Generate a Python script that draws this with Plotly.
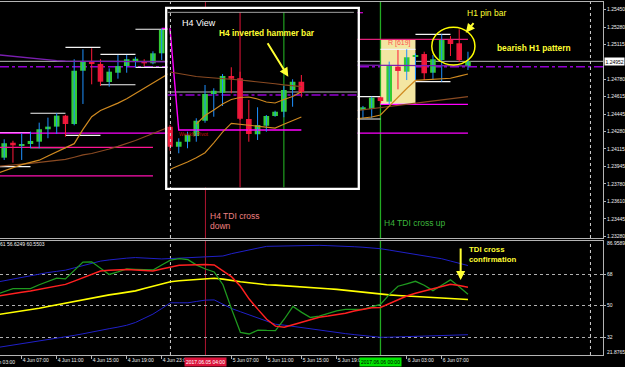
import pandas as pd
import plotly.graph_objects as go

FONT = "Liberation Sans"

# ---------------- H1 candles visible in the main window ----------------
candle_time = [
    "2017-06-04 05:00", "2017-06-04 06:00", "2017-06-04 07:00", "2017-06-04 08:00", "2017-06-04 09:00",
    "2017-06-04 10:00", "2017-06-04 11:00", "2017-06-04 12:00", "2017-06-04 13:00", "2017-06-04 14:00",
    "2017-06-04 15:00", "2017-06-04 16:00", "2017-06-04 17:00", "2017-06-04 18:00", "2017-06-04 19:00",
    "2017-06-04 20:00", "2017-06-04 21:00", "2017-06-04 22:00", "2017-06-04 23:00",
    "2017-06-05 22:00", "2017-06-05 23:00", "2017-06-06 00:00", "2017-06-06 01:00", "2017-06-06 02:00",
    "2017-06-06 03:00", "2017-06-06 04:00", "2017-06-06 05:00", "2017-06-06 06:00", "2017-06-06 07:00",
    "2017-06-06 08:00", "2017-06-06 09:00", "2017-06-06 10:00"]
candle_open = [1.24030, 1.24173, 1.24148, 1.24161, 1.24183, 1.24302, 1.24327, 1.24432, 1.24352, 1.24862,
               1.24946, 1.24927, 1.24754, 1.24843, 1.24907, 1.24952, 1.24955, 1.24933, 1.25029,
               1.24493, 1.24496, 1.24608, 1.24566, 1.24901, 1.24853, 1.24996, 1.25022, 1.24843, 1.24965,
               1.25163, 1.25125, 1.24907]
candle_high = [1.24206, 1.24192, 1.24263, 1.24279, 1.24365, 1.24413, 1.24455, 1.24440, 1.24972, 1.25067,
               1.25077, 1.24972, 1.24885, 1.25013, 1.25013, 1.24996, 1.24972, 1.25048, 1.25264,
               1.24525, 1.24614, 1.24614, 1.24949, 1.25061, 1.25067, 1.25029, 1.25044, 1.25013, 1.25211,
               1.25194, 1.25259, 1.25044]
candle_low = [1.24008, 1.23982, 1.24008, 1.24120, 1.24120, 1.24216, 1.24257, 1.24231, 1.24340, 1.24544,
              1.24732, 1.24716, 1.24709, 1.24786, 1.24843, 1.24895, 1.24907, 1.24924, 1.24965,
              1.24400, 1.24407, 1.24550, 1.24544, 1.24684, 1.24773, 1.24773, 1.24773, 1.24773, 1.24757,
              1.25003, 1.24946, 1.24869]
candle_close = [1.24168, 1.24148, 1.24161, 1.24190, 1.24302, 1.24327, 1.24432, 1.24352, 1.24862, 1.24946,
                1.24927, 1.24757, 1.24853, 1.24907, 1.24972, 1.24977, 1.24933, 1.25029, 1.25252,
                1.24512, 1.24604, 1.24572, 1.24907, 1.24860, 1.24991, 1.25013, 1.24838, 1.24972, 1.25156,
                1.25118, 1.24965, 1.24952]

# hourly axis used by the moving averages and the TDI window (4 Jun 04:00 .. 6 Jun 10:00)
hours = pd.date_range("2017-06-04 04:00", "2017-06-06 10:00", freq="h").strftime("%Y-%m-%d %H:%M").tolist()

# moving averages (hidden part under the H4 inset left empty)
ma_fast = ([1.23874, 1.23904, 1.23936, 1.23964, 1.23985, 1.24006, 1.24046, 1.24087, 1.24126, 1.24164,
            1.24301, 1.24422, 1.24481, 1.24514, 1.24552, 1.24593, 1.24643, 1.24696, 1.24744, 1.24800, 1.24845]
           + [None] * 20 +
           [1.24400, 1.24410, 1.24419, 1.24438, 1.24525, 1.24611, 1.24692, 1.24769, 1.24773, 1.24778,
            1.24783, 1.24790, 1.24810, 1.24831])
ma_slow = ([1.23946, 1.23952, 1.23960, 1.23968, 1.23976, 1.23985, 1.23993, 1.24003, 1.24014, 1.24034,
            1.24056, 1.24070, 1.24088, 1.24113, 1.24138, 1.24164, 1.24194, 1.24228, 1.24263, 1.24295, 1.24328]
           + [None] * 20 +
           [1.24477, 1.24486, 1.24496, 1.24508, 1.24520, 1.24530, 1.24540, 1.24550, 1.24560, 1.24571,
            1.24582, 1.24593, 1.24603, 1.24614])
ma_long = ([1.25017, 1.25008, 1.24998, 1.24989, 1.24979, 1.24972, 1.24965, 1.24958, 1.24955, 1.24954,
            1.24953, 1.24952, 1.24951, 1.24950, 1.24950, 1.24949, 1.24948, 1.24948, 1.24947, 1.24946, 1.24946]
           + [None] * 20 +
           [1.24915, 1.24914, 1.24914, 1.24913, 1.24913, 1.24912, 1.24912, 1.24911, 1.24911, 1.24910,
            1.24910, 1.24909, 1.24909, 1.24908])

# H4 high / low ranges drawn over the H1 candles
h4_start = ["2017-06-04 04:00", "2017-06-04 08:00", "2017-06-04 12:00", "2017-06-04 16:00",
            "2017-06-04 20:00", "2017-06-05 20:00", "2017-06-06 00:00", "2017-06-06 04:00"]
h4_high = [1.24269, 1.24455, 1.25086, 1.25019, 1.25259, 1.24614, 1.25067, 1.25211]
h4_low = [1.23944, 1.24126, 1.24244, 1.24728, 1.24895, 1.24400, 1.24544, 1.24757]

# pivot style levels
level_price = [1.24265, 1.24129, 1.23855, 1.24541, 1.25163, 1.25417, 1.25268]
level_start = ["2017-06-04 04:00", "2017-06-04 04:00", "2017-06-04 04:00", "2017-06-06 00:00",
               "2017-06-05 00:00", "2017-06-05 00:00", "2017-06-04 23:00"]
level_end = ["2017-06-06 10:00", "2017-06-04 22:00", "2017-06-04 22:00", "2017-06-06 10:00",
             "2017-06-06 10:00", "2017-06-05 22:00", "2017-06-05 12:00"]
level_colors = ["#ff00ff", "#ff1493", "#ff10b0", "#ff00ff", "#e0207a", "#ff00ff", "#ff00ff"]

bid_price = 1.24952
dashdot_price = 1.24901
price_ticks = [1.25450, 1.25280, 1.25115, 1.24780, 1.24615, 1.24445, 1.24280, 1.24115,
               1.23945, 1.23780, 1.23610, 1.23445, 1.23280]

# ---------------- H4 inset ----------------
inset_time = ["2017.06.03 20:00", "2017.06.04 00:00", "2017.06.04 04:00", "2017.06.04 08:00",
              "2017.06.04 12:00", "2017.06.04 16:00", "2017.06.04 20:00", "2017.06.05 00:00",
              "2017.06.05 04:00", "2017.06.05 08:00", "2017.06.05 12:00", "2017.06.05 16:00",
              "2017.06.05 20:00", "2017.06.06 00:00", "2017.06.06 04:00", "2017.06.06 08:00"]
inset_open = [1.24327, 1.23967, 1.24057, 1.24160, 1.24435, 1.24916, 1.24939, 1.25240,
              1.25199, 1.24466, 1.24191, 1.24345, 1.24520, 1.24597, 1.24988, 1.25137]
inset_high = [1.24358, 1.24119, 1.24237, 1.24479, 1.25078, 1.25019, 1.25276, 1.25397,
              1.25317, 1.24808, 1.24677, 1.24538, 1.24615, 1.25060, 1.25181, 1.25258]
inset_low = [1.23895, 1.23849, 1.23939, 1.24057, 1.24399, 1.24507, 1.24700, 1.24929,
             1.24448, 1.24057, 1.24088, 1.24237, 1.24507, 1.24497, 1.24687, 1.24857]
inset_close = [1.23967, 1.24057, 1.24178, 1.24435, 1.24916, 1.24975, 1.25240, 1.25191,
               1.24471, 1.24196, 1.24358, 1.24520, 1.24597, 1.24988, 1.25137, 1.24952]
inset_ma_slow = [1.25312, 1.25285, 1.25258, 1.25231, 1.25218, 1.25208, 1.25191, 1.25177,
                 1.25168, 1.25152, 1.25139, 1.25121, 1.25100, 1.25080, 1.25060, 1.25049]
inset_ma_mid = [1.23562, 1.23625, 1.23692, 1.23768, 1.23859, 1.24038, 1.24228, 1.24387,
                1.24369, 1.24351, 1.24333, 1.24318, 1.24302, 1.24371, 1.24443, 1.24504]
inset_ma_fast = [None, None, None, 1.24376, 1.24529, 1.24628, 1.24736, 1.24817,
                 1.24853, 1.24862, 1.24826, 1.24772, 1.24754, 1.24817, 1.24871, 1.24956]
inset_pivot = [1.26099] + [1.24268] * 15
inset_dashdot = 1.24898

# ---------------- TDI window (hourly, same axis as `hours`) ----------------
tdi_upper = [63.33, 64.29, 65.30, 66.25, 67.21, 68.11, 68.95, 69.63, 70.30, 71.60, 73.00, 74.35, 75.48, 76.15,
             76.77, 77.17, 77.50, 77.22, 76.88, 76.72, 76.94, 77.22, 77.50, 77.84, 78.06, 78.23, 78.40, 79.75,
             80.93, 81.95, 82.90, 83.91, 84.03, 84.14, 84.20, 84.31, 84.42, 84.48, 84.31, 84.20, 84.03, 83.69,
             83.41, 83.13, 82.56, 81.78, 80.93, 80.15, 79.08, 78.35, 77.62, 76.83, 75.53, 74.24, 72.95]
tdi_lower = [25.98, 26.72, 27.45, 28.23, 28.97, 29.81, 30.60, 31.44, 32.23, 33.07, 33.97, 34.81, 35.77, 36.90,
             37.80, 38.86, 40.44, 42.74, 45.22, 48.37, 51.69, 51.69, 51.69, 52.47, 53.21, 53.32, 50.79, 48.37,
             46.57, 44.88, 43.14, 41.28, 39.43, 38.92, 38.19, 37.51, 37.06, 36.28, 35.55, 34.81, 34.08, 33.52,
             33.01, 32.45, 32.00, 32.06, 32.17, 32.34, 32.51, 32.62, 32.79, 32.96, 33.13, 33.30, 33.46]
tdi_base = [44.71, 45.44, 46.23, 46.96, 47.69, 48.59, 49.61, 50.56, 51.52, 52.53, 53.49, 54.39, 55.46, 56.19,
            56.92, 57.65, 58.49, 59.84, 61.19, 62.54, 63.67, 64.23, 64.62, 65.19, 65.47, 65.69, 65.19, 64.34,
            63.72, 63.16, 62.54, 61.98, 61.75, 61.47, 61.25, 60.97, 60.57, 60.12, 59.73, 59.34, 58.83, 58.16,
            57.54, 56.92, 56.58, 56.19, 55.85, 55.51, 55.17, 54.84, 54.50, 54.16, 53.94, 53.77, 53.54]
tdi_price = [56.36, 58.04, 59.73, 59.73, 59.73, 61.98, 63.95, 65.75, 65.35, 69.85, 74.92, 75.08, 71.54, 67.88,
             69.29, 70.98, 70.81, 70.58, 70.42, 73.23, 76.04, 76.94, 76.32, 73.23, 70.98, 69.29, 61.98, 47.92,
             34.76, 33.86, 36.11, 35.88, 35.77, 42.29, 49.61, 46.23, 43.31, 44.09, 45.67, 47.08, 47.92, 47.92,
             47.92, 49.33, 50.73, 56.36, 61.14, 62.54, 63.95, 61.70, 58.61, 61.70, 64.79, 60.85, 56.62]
tdi_signal = [55.23, 56.13, 56.92, 57.65, 58.38, 59.28, 60.29, 61.25, 62.20, 64.06, 66.03, 68.00, 69.85, 70.25,
              70.58, 70.70, 70.42, 70.13, 69.85, 70.98, 72.05, 73.12, 73.28, 73.45, 73.57, 73.28, 69.85, 66.48,
              61.08, 53.82, 47.92, 42.29, 38.36, 37.74, 39.15, 40.61, 42.01, 43.42, 44.09, 44.94, 45.67, 47.02,
              48.09, 48.88, 48.99, 51.18, 53.37, 55.57, 57.14, 58.38, 59.62, 61.02, 62.32, 61.53, 60.55]
tdi_levels = [68, 50, 32]
tdi_max, tdi_min = 86.9589, 21.8765

time_ticks = ["2017-06-04 07:00", "2017-06-04 11:00", "2017-06-04 15:00", "2017-06-04 19:00",
              "2017-06-04 23:00", "2017-06-05 07:00", "2017-06-05 11:00", "2017-06-05 15:00",
              "2017-06-05 19:00", "2017-06-06 03:00", "2017-06-06 07:00"]
time_labels = ["4 Jun 07:00", "4 Jun 11:00", "4 Jun 15:00", "4 Jun 19:00", "4 Jun 23:00",
               "5 Jun 07:00", "5 Jun 11:00", "5 Jun 15:00", "5 Jun 19:00", "6 Jun 03:00", "6 Jun 07:00"]

tdi_cross_down = "2017-06-05 04:00"
tdi_cross_up = "2017-06-06 00:00"
day_separators = ["2017-06-05 00:00", "2017-06-07 00:00"]

# ---------------- styling ----------------
BULL_BODY, BEAR_BODY = "#33cc33", "#e8173a"
BULL_WICK, BEAR_WICK = "#1e90ff", "#ff1a3a"
FRAME = "#b4b4b4"
TXT = "#f0f0f0"

X_MAIN = ["2017-06-04 04:31:12", "2017-06-07 01:26:00"]
Y_MAIN = [1.23261, 1.25520]
X_INSET = [-0.285, 21.41]
Y_INSET = [1.23233, 1.26446]
Y_TDI = [tdi_min, tdi_max]

fig = go.Figure()


def add_candles(t, o, h, l, c, xa, ya, width):
    bull = [ci >= oi for oi, ci in zip(o, c)]
    for flag, col in ((True, BULL_WICK), (False, BEAR_WICK)):
        xs, ys = [], []
        for ti, hi, li, b in zip(t, h, l, bull):
            if b == flag:
                xs += [ti, ti, None]
                ys += [li, hi, None]
        fig.add_trace(go.Scatter(x=xs, y=ys, mode="lines", line=dict(color=col, width=1),
                                 xaxis=xa, yaxis=ya, hoverinfo="skip"))
    for flag, col in ((True, BULL_BODY), (False, BEAR_BODY)):
        xs = [ti for ti, b in zip(t, bull) if b == flag]
        base = [min(oi, ci) for oi, ci, b in zip(o, c, bull) if b == flag]
        hgt = [abs(ci - oi) for oi, ci, b in zip(o, c, bull) if b == flag]
        fig.add_trace(go.Bar(x=xs, y=hgt, base=base, width=width, xaxis=xa, yaxis=ya,
                             marker=dict(color=col, line=dict(width=0)), hoverinfo="skip"))


# H4 range lines
xs, ys = [], []
for s, hi, lo in zip(h4_start, h4_high, h4_low):
    e = (pd.Timestamp(s) + pd.Timedelta(hours=4)).strftime("%Y-%m-%d %H:%M")
    xs += [s, e, None, s, e, None]
    ys += [hi, hi, None, lo, lo, None]
fig.add_trace(go.Scatter(x=xs, y=ys, mode="lines", line=dict(color="#f4f4f4", width=1.2),
                         xaxis="x", yaxis="y", hoverinfo="skip"))

# pivot levels
for p, s, e, col in zip(level_price, level_start, level_end, level_colors):
    fig.add_trace(go.Scatter(x=[s, e], y=[p, p], mode="lines", line=dict(color=col, width=1.2),
                             xaxis="x", yaxis="y", hoverinfo="skip"))

add_candles(candle_time, candle_open, candle_high, candle_low, candle_close, "x", "y", 2.3e6)

for vals, col, w in ((ma_long, "#7a1fb0", 1.3), (ma_slow, "#8a4a22", 1.2), (ma_fast, "#d08a20", 1.2)):
    fig.add_trace(go.Scatter(x=hours, y=vals, mode="lines", line=dict(color=col, width=w),
                             connectgaps=False, xaxis="x", yaxis="y", hoverinfo="skip"))

# inset
fig.add_trace(go.Scatter(x=inset_time, y=inset_pivot, mode="lines", line=dict(color="#ff00ff", width=1.4),
                         xaxis="x2", yaxis="y2", hoverinfo="skip"))
add_candles(inset_time, inset_open, inset_high, inset_low, inset_close, "x2", "y2", 0.65)
for vals, col in ((inset_ma_slow, "#8a4a22"), (inset_ma_mid, "#d08a20"), (inset_ma_fast, "#d08a20")):
    fig.add_trace(go.Scatter(x=inset_time, y=vals, mode="lines", line=dict(color=col, width=1.1),
                             xaxis="x2", yaxis="y2", hoverinfo="skip"))

# TDI
for vals, col, w in ((tdi_upper, "#2020c8", 1), (tdi_lower, "#2020c8", 1), (tdi_base, "#ffff00", 1.6),
                     (tdi_price, "#1f9a1f", 1.3), (tdi_signal, "#ff2020", 1.5)):
    fig.add_trace(go.Scatter(x=hours, y=vals, mode="lines", line=dict(color=col, width=w),
                             xaxis="x3", yaxis="y3", hoverinfo="skip"))

shapes = []
# main panel horizontal lines
shapes.append(dict(type="line", xref="x", yref="y", x0=X_MAIN[0], x1=X_MAIN[1], y0=bid_price, y1=bid_price,
                   line=dict(color="#b8b8b8", width=1), layer="below"))
shapes.append(dict(type="line", xref="x", yref="y", x0=X_MAIN[0], x1=X_MAIN[1], y0=dashdot_price,
                   y1=dashdot_price, line=dict(color="#9400d3", width=1.5, dash="dashdot"), layer="below"))
# R [619] box
shapes.append(dict(type="rect", xref="x", yref="y", x0="2017-06-06 00:00", x1="2017-06-06 04:00",
                   y0=level_price[3], y1=level_price[4], fillcolor="#f3e6a2", line=dict(width=0), layer="below"))
# verticals in main & TDI
for xv, col, w in ((tdi_cross_down, "#b01530", 1), (tdi_cross_up, "#22aa22", 1.3)):
    shapes.append(dict(type="line", xref="x", yref="y", x0=xv, x1=xv, y0=Y_MAIN[0], y1=Y_MAIN[1],
                       line=dict(color=col, width=w), layer="below"))
    shapes.append(dict(type="line", xref="x3", yref="y3", x0=xv, x1=xv, y0=Y_TDI[0], y1=Y_TDI[1],
                       line=dict(color=col, width=w), layer="below"))
for i, xv in enumerate(day_separators):
    shapes.append(dict(type="line", xref="x", yref="y", x0=xv, x1=xv, y0=Y_MAIN[0], y1=Y_MAIN[1],
                       line=dict(color="#d0d0d0", width=1, dash="dot"), layer="above" if i == 0 else "below"))
    shapes.append(dict(type="line", xref="x3", yref="y3", x0=xv, x1=xv, y0=Y_TDI[0], y1=Y_TDI[1],
                       line=dict(color="#d0d0d0", width=1, dash="dot"), layer="below"))
# inset lines
shapes.append(dict(type="line", xref="x2", yref="y2", x0=X_INSET[0], x1=X_INSET[1], y0=bid_price, y1=bid_price,
                   line=dict(color="#b8b8b8", width=1), layer="below"))
shapes.append(dict(type="line", xref="x2", yref="y2", x0=X_INSET[0], x1=X_INSET[1], y0=inset_dashdot,
                   y1=inset_dashdot, line=dict(color="#9400d3", width=1.3, dash="dashdot"), layer="below"))
for xv, col in (("2017.06.05 04:00", "#c01030"), ("2017.06.06 00:00", "#1f9f1f")):
    shapes.append(dict(type="line", xref="x2", yref="y2", x0=xv, x1=xv, y0=Y_INSET[0], y1=1.26386,
                       line=dict(color=col, width=1.2), layer="below"))
shapes.append(dict(type="line", xref="x2", yref="y2", x0=X_INSET[0], x1=21.0, y0=1.26386, y1=1.26386,
                   line=dict(color="#a0a0a0", width=1), layer="below"))
# inset white frame
shapes.append(dict(type="rect", xref="paper", yref="paper", x0=0.26592, x1=0.57408, y0=0.48556, y1=0.97875,
                   line=dict(color="#ffffff", width=2.3), layer="above"))
# circle around pin bar
shapes.append(dict(type="circle", xref="x", yref="y", x0="2017-06-06 05:52", x1="2017-06-06 10:48",
                   y0=1.24917, y1=1.25278, line=dict(color="#ffff00", width=1.5), layer="above"))

ann = []


def note(text, x, y, xref, yref, color, size, bold=False, xanchor="left", yanchor="middle", **kw):
    ann.append(dict(text=f"<b>{text}</b>" if bold else text, x=x, y=y, xref=xref, yref=yref,
                    xanchor=xanchor, yanchor=yanchor, showarrow=False,
                    font=dict(family=FONT, size=size, color=color), **kw))


def arrow(x, y, xref, yref, ax, ay):
    ann.append(dict(text="", x=x, y=y, xref=xref, yref=yref, ax=ax, ay=ay, showarrow=True,
                    arrowcolor="#ffff33", arrowwidth=2, arrowhead=2, arrowsize=0.9))


note("H1 pin bar", "2017-06-06 09:40", 1.25417, "x", "y", "#ffff33", 8.5)
arrow("2017-06-06 09:45", 1.25226, "x", "y", 9, -11)
note("bearish H1 pattern", "2017-06-06 13:05", 1.25077, "x", "y", "#ffff33", 8.4, bold=True)
note("H4 TDI cross", "2017-06-05 04:15", 1.23472, "x", "y", "#f08080", 8.5)
note("down", "2017-06-05 04:15", 1.23379, "x", "y", "#f08080", 8.5)
note("H4 TDI cross up", "2017-06-06 00:08", 1.23408, "x", "y", "#3cb43c", 8.5)
note("R [619]", "2017-06-06 00:40", 1.25125, "x", "y", "#ff5050", 7)
note("TDI cross", "2017-06-06 09:56", 82.22, "x3", "y3", "#ffff33", 7.8, bold=True)
note("confirmation", "2017-06-06 09:56", 76.51, "x3", "y3", "#ffff33", 7.8, bold=True)
arrow("2017-06-06 09:10", 64.69, "x3", "y3", 0, -33)
note("H4 View", 1.14, 1.26189, "x2", "y2", "#ffffff", 9)
note("H4 inverted hammer bar", 5.4, 1.26009, "x2", "y2", "#ffff33", 8.3, bold=True)
arrow(13.51, 1.25227, "x2", "y2", -21.6, -35)
note("Weekly Pivot", 0.77, 1.24196, "x2", "y2", "#d01010", 5)
note("2017.06.05 04:00", tdi_cross_down, 0.0123, "x3", "paper", "#ffffff", 5, xanchor="center",
     bgcolor="#dc143c", borderpad=1)
note("2017.06.06 00:00", tdi_cross_up, 0.0123, "x3", "paper", "#000000", 5, xanchor="center",
     bgcolor="#00e600", borderpad=1)
note("4 Jun 03:00", -0.0213, 0.0123, "paper", "paper", TXT, 5)
note(f"{bid_price:.5f}", 0.9664, bid_price, "paper", "y", "#000000", 5, bgcolor="#ffffff", borderpad=0.5)
note(f"{tdi_max:.4f}", 0.968, 0.3371, "paper", "paper", TXT, 5)
note(f"{tdi_min:.4f}", 0.968, 0.0400, "paper", "paper", TXT, 5)
note("61 56.6249 60.5503", -0.004, 0.3351, "paper", "paper", TXT, 5)

ax_common = dict(showgrid=False, zeroline=False)
fig.update_layout(
    width=625, height=367, margin=dict(l=0, r=0, t=0, b=0),
    paper_bgcolor="#000000", plot_bgcolor="#000000",
    showlegend=False, hovermode=False, barmode="overlay",
    font=dict(family=FONT, size=5, color=TXT),
    xaxis=dict(domain=[0, 0.9648], type="date", range=X_MAIN, anchor="y", showticklabels=False,
               showline=True, mirror=True, linecolor=FRAME, linewidth=1, ticks="", **ax_common),
    yaxis=dict(domain=[0.35150, 0.99455], range=Y_MAIN, anchor="x", side="right",
               tickvals=price_ticks, ticktext=[f"{v:.5f}" for v in price_ticks],
               tickfont=dict(size=5, color=TXT), ticks="outside", ticklen=2, tickcolor=FRAME,
               showline=True, mirror=True, linecolor=FRAME, linewidth=1, **ax_common),
    xaxis2=dict(domain=[0.268, 0.572], type="category", categoryorder="array", categoryarray=inset_time,
                range=X_INSET, anchor="y2", visible=False, **ax_common),
    yaxis2=dict(domain=[0.48910, 0.97548], range=Y_INSET, anchor="x2", visible=False, **ax_common),
    xaxis3=dict(domain=[0, 0.9648], type="date", range=X_MAIN, anchor="y3",
                tickvals=time_ticks, ticktext=time_labels, ticklabelposition="outside right",
                tickangle=0, tickfont=dict(size=5, color=TXT), ticks="outside", ticklen=3, tickcolor=FRAME,
                showline=True, mirror=True, linecolor=FRAME, linewidth=1, **ax_common),
    yaxis3=dict(domain=[0.03270, 0.34332], range=Y_TDI, anchor="x3", side="right",
                tickvals=tdi_levels, ticktext=[str(v) for v in tdi_levels],
                tickfont=dict(size=5, color=TXT), ticks="outside", ticklen=2, tickcolor=FRAME,
                showgrid=True, gridcolor="#b0b0b0", griddash="dot", gridwidth=1, zeroline=False,
                showline=True, mirror=True, linecolor=FRAME, linewidth=1),
    shapes=shapes, annotations=ann,
)

fig.write_html("out.html")
